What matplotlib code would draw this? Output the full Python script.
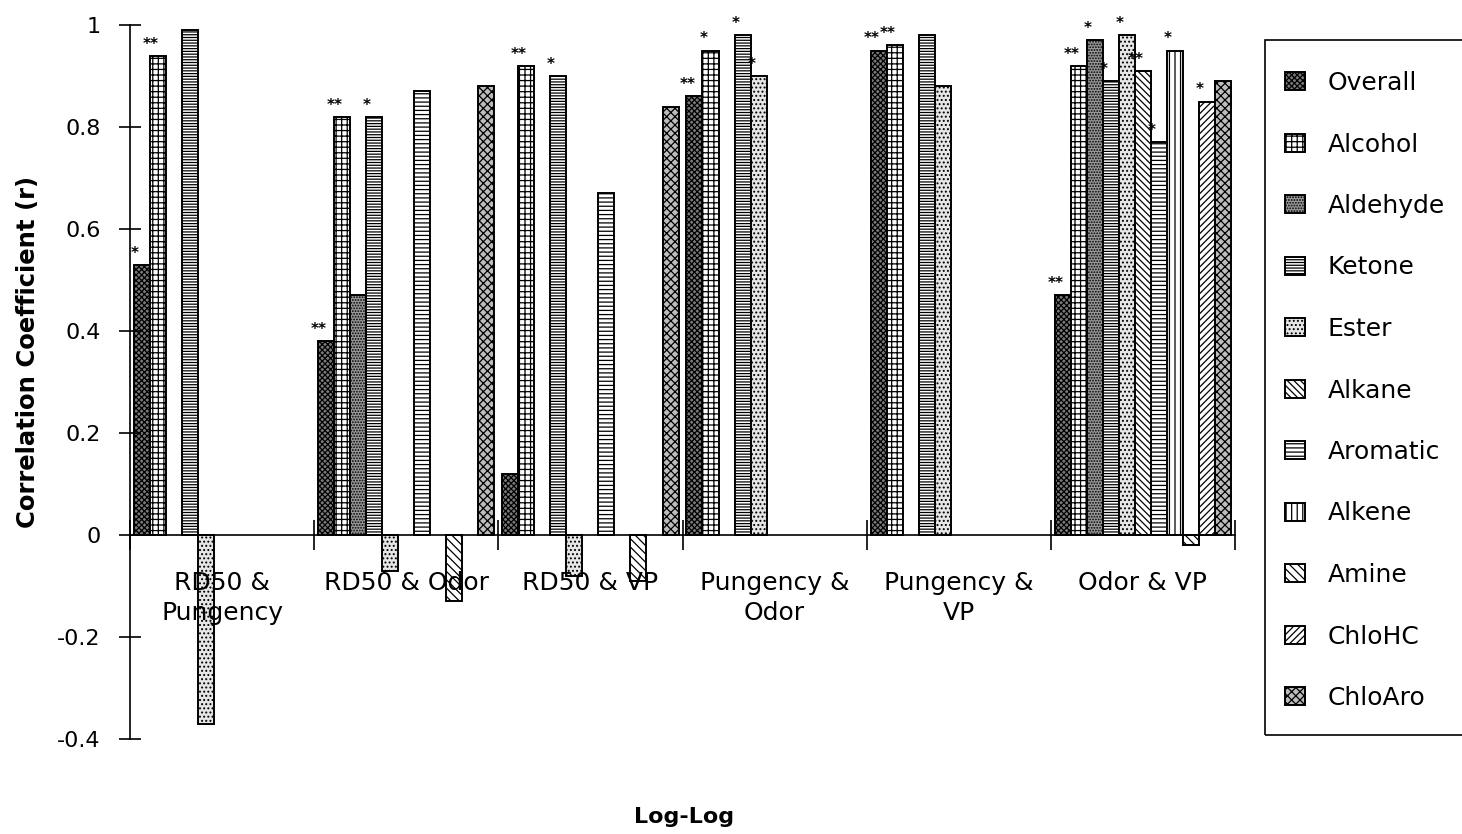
import numpy as np
import matplotlib
matplotlib.use("Agg")
import matplotlib.pyplot as plt
from matplotlib.patches import Rectangle

plt.rcParams["font.family"] = ["DejaVu Sans"]
plt.rcParams["hatch.linewidth"] = 0.9

nan = np.nan

# Comparison groups (category axis)
groups = ["RD50 &\nPungency", "RD50 & Odor", "RD50 & VP",
          "Pungency &\nOdor", "Pungency &\nVP", "Odor & VP"]

# Correlation coefficients per chemical class (nan = not computed)
overall  = [0.53, 0.38, 0.12, 0.86, 0.95, 0.47]
alcohol  = [0.94, 0.82, 0.92, 0.95, 0.96, 0.92]
aldehyde = [nan, 0.47, nan, nan, nan, 0.97]
ketone   = [0.99, 0.82, 0.90, 0.98, 0.98, 0.89]
ester    = [-0.37, -0.07, -0.08, 0.90, 0.88, 0.98]
alkane   = [nan, nan, nan, nan, nan, 0.91]
aromatic = [nan, 0.87, 0.67, nan, nan, 0.77]
alkene   = [nan, nan, nan, nan, nan, 0.95]
amine    = [nan, -0.13, -0.09, nan, nan, -0.02]
chlohc   = [nan, nan, nan, nan, nan, 0.85]
chloaro  = [nan, 0.88, 0.84, nan, nan, 0.89]

# Significance markers
sig_overall  = ["*", "**", "", "**", "**", "**"]
sig_alcohol  = ["**", "**", "**", "*", "**", "**"]
sig_aldehyde = ["", "", "", "", "", "*"]
sig_ketone   = ["", "*", "*", "*", "", "*"]
sig_ester    = ["", "", "", "*", "", "*"]
sig_alkane   = ["", "", "", "", "", "**"]
sig_aromatic = ["", "", "", "", "", "*"]
sig_alkene   = ["", "", "", "", "", "*"]
sig_amine    = ["", "", "", "", "", ""]
sig_chlohc   = ["", "", "", "", "", "*"]
sig_chloaro  = ["", "", "", "", "", ""]

series_names = ["Overall", "Alcohol", "Aldehyde", "Ketone", "Ester", "Alkane",
                "Aromatic", "Alkene", "Amine", "ChloHC", "ChloAro"]
series_values = [overall, alcohol, aldehyde, ketone, ester, alkane,
                 aromatic, alkene, amine, chlohc, chloaro]
series_sigs = [sig_overall, sig_alcohol, sig_aldehyde, sig_ketone, sig_ester,
               sig_alkane, sig_aromatic, sig_alkene, sig_amine, sig_chlohc,
               sig_chloaro]

# Fill / hatch for each class
styles = [
    dict(facecolor="#7a7a7a", hatch="xxxxxx"),   # Overall
    dict(facecolor="white", hatch="+++"),         # Alcohol
    dict(facecolor="#9a9a9a", hatch="......"),    # Aldehyde
    dict(facecolor="white", hatch="------"),      # Ketone
    dict(facecolor="#e6e6e6", hatch="...."),      # Ester
    dict(facecolor="white", hatch="\\\\\\\\\\"),  # Alkane
    dict(facecolor="white", hatch="----"),        # Aromatic
    dict(facecolor="white", hatch="|||"),         # Alkene
    dict(facecolor="white", hatch="\\\\\\\\"),    # Amine
    dict(facecolor="white", hatch="/////"),       # ChloHC
    dict(facecolor="#bdbdbd", hatch="xxxx"),      # ChloAro
]

yticks = [-0.4, -0.2, 0, 0.2, 0.4, 0.6, 0.8, 1.0]
ytick_labels = ["-0.4", "-0.2", "0", "0.2", "0.4", "0.6", "0.8", "1"]

W, H = 1462, 834
fig = plt.figure(figsize=(W / 100, H / 100), dpi=100)
ax = fig.add_axes([130 / W, 95 / H, 1105 / W, 714 / H])

n_series = len(series_names)
n_groups = len(groups)
width = 0.087
pad = 0.5 - n_series * width / 2
base = np.arange(n_groups)

handles = []
for i, (name, vals, sigs, st) in enumerate(zip(series_names, series_values,
                                               series_sigs, styles)):
    vals = np.asarray(vals, dtype=float)
    xs = base + pad + width * (i + 0.5)
    mask = ~np.isnan(vals)
    bc = ax.bar(xs[mask], vals[mask], width=width, edgecolor="black",
                linewidth=1.4, label=name, **st)
    handles.append(bc)
    for x, v, s in zip(xs, vals, sigs):
        if s and not np.isnan(v):
            ax.text(x - 0.45 * width, max(v, 0) + 0.008, s,
                    ha="center", va="bottom", fontsize=11, fontweight="bold")

ax.set_xlim(0, n_groups)
ax.set_ylim(-0.4, 1.0)

for side in ("top", "right"):
    ax.spines[side].set_visible(False)
ax.spines["bottom"].set_position(("data", 0))
ax.spines["bottom"].set_linewidth(1.2)
ax.spines["left"].set_linewidth(1.2)

ax.set_yticks(yticks)
ax.set_yticklabels(ytick_labels, fontsize=16)
ax.tick_params(axis="y", direction="inout", length=16, width=1.2, pad=13)

ax.set_xticks(np.arange(n_groups + 1))
ax.set_xticklabels([""] * (n_groups + 1))
ax.set_xticks(base + 0.5, minor=True)
ax.set_xticklabels(groups, minor=True, fontsize=18, linespacing=1.3)
ax.tick_params(axis="x", which="major", direction="inout", length=22, width=1.2)
ax.tick_params(axis="x", which="minor", length=0, pad=26)

fig.text(28 / W, 1 - 352 / H, "Correlation Coefficient (r)", rotation=90,
         ha="center", va="center", fontsize=17.5, fontweight="bold")
fig.text(684 / W, 1 - 817 / H, "Log-Log", ha="center", va="center",
         fontsize=16, fontweight="bold")

leg = fig.legend(handles=handles, labels=series_names, loc="upper left",
                 bbox_to_anchor=(1285 / W, 1 - 71 / H), frameon=False,
                 fontsize=18, handlelength=0.8, handleheight=0.75,
                 handletextpad=0.9, labelspacing=1.5, borderpad=0,
                 borderaxespad=0)
fig.patches.append(Rectangle((1265 / W, 1 - 735 / H), 0.2, 695 / H,
                             transform=fig.transFigure, fill=False,
                             edgecolor="black", linewidth=1.2))

fig.savefig("out.png", dpi=100)
